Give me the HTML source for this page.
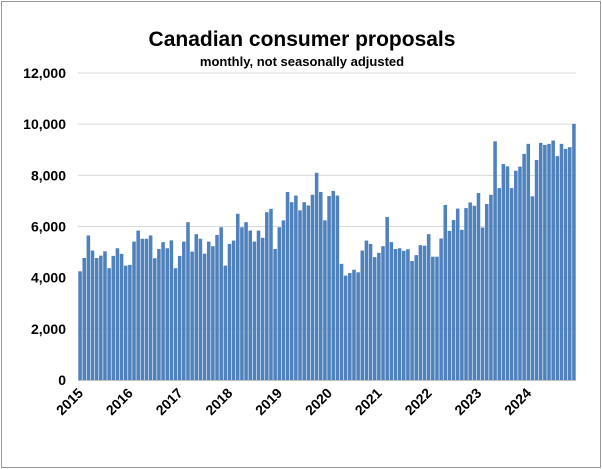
<!DOCTYPE html>
<html><head><meta charset="utf-8"><style>
body{margin:0;background:#fff;}
svg{display:block;font-family:"Liberation Sans",sans-serif;}
</style></head><body>
<svg id="chart" width="602" height="469">
<rect x="1.5" y="1.5" width="599" height="466" fill="#fff" stroke="#999" stroke-width="1"/>
<text x="302" y="46" text-anchor="middle" font-size="21" font-weight="bold" fill="#000">Canadian consumer proposals</text>
<text x="302" y="66" text-anchor="middle" font-size="13" font-weight="bold" fill="#000">monthly, not seasonally adjusted</text>
<g id="grid"></g><g id="bars"></g><g id="yt"></g><g id="xt"></g>
</svg>
<script>
const values = [
4250,4770,5650,5060,4770,4860,5030,4370,4850,5150,4930,4470,
4500,5410,5840,5520,5520,5650,4760,5120,5390,5150,5460,4370,
4850,5410,6170,5020,5700,5520,4940,5410,5230,5670,5970,4470,
5320,5450,6500,5970,6170,5840,5410,5840,5560,6560,6690,5120,
5970,6240,7350,6950,7210,6630,6950,6820,7240,8100,7350,6240,
7190,7390,7210,4540,4080,4180,4310,4210,5060,5450,5320,4800,
4970,5230,6370,5390,5120,5150,5050,5110,4650,4880,5270,5250,
5700,4820,4820,5530,6840,5830,6250,6700,5870,6720,6940,6810,
7310,5960,6880,7240,9330,7500,8440,8350,7500,8180,8340,8840,
9230,7180,8600,9270,9190,9230,9360,8750,9230,9030,9100,10010];
const yTicks = [0,2000,4000,6000,8000,10000,12000];
const yLabels = ["0","2,000","4,000","6,000","8,000","10,000","12,000"];
const years = ["2015","2016","2017","2018","2019","2020","2021","2022","2023","2024"];
const NS="http://www.w3.org/2000/svg";
const x0=78,x1=576,yb=380,yt=73,ymax=12000;
const n=values.length,bw=(x1-x0)/n;
const y=v=>yb-(v/ymax)*(yb-yt);
const xi=i=>x0+i*bw;
function mk(t,a,p){const e=document.createElementNS(NS,t);for(const k in a)e.setAttribute(k,a[k]);p.appendChild(e);return e;}
const G=document.getElementById('grid'),B=document.getElementById('bars'),YT=document.getElementById('yt'),XT=document.getElementById('xt');
yTicks.forEach((v,i)=>{
 if(v>0){const l=mk('line',{x1:x0,x2:x1,y1:y(v),y2:y(v),stroke:'#d9d9d9','stroke-width':1},G);
 
 }
 const t=mk('text',{x:66,y:y(v)+5,'text-anchor':'end','font-size':14,'font-weight':'bold',fill:'#000'},YT);
 t.textContent=yLabels[i];
 
 
});
values.forEach((v,i)=>{
 const r=mk('rect',{x:xi(i)+0.3,y:y(v),width:bw-0.6,height:yb-y(v),fill:'#4f81bd'},B);
 
 
});
const ax=mk('line',{x1:x0,x2:x1,y1:yb+0.5,y2:yb+0.5,stroke:'#bfbfbf','stroke-width':1},G);


years.forEach((s,j)=>{
 const cx=xi(j*12)+6,cy=yb+14;
 const t=mk('text',{x:cx,y:cy,'text-anchor':'end','font-size':14,'font-weight':'bold',fill:'#000',transform:`rotate(-45 ${cx} ${cy})`},XT);
 t.textContent=s;
 
 
});
</script>
</body></html>
